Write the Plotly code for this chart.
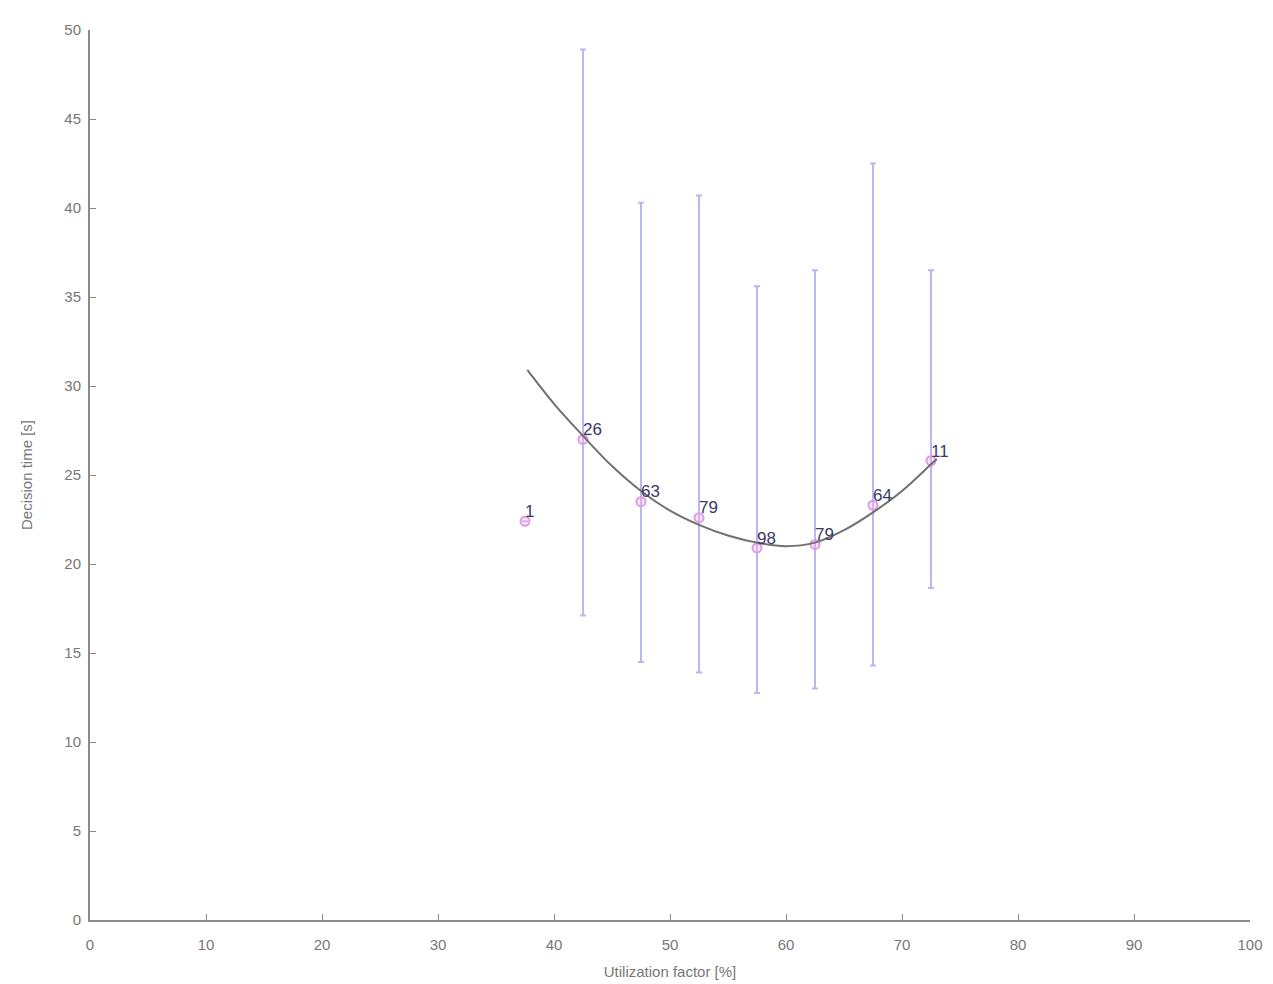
import plotly.graph_objects as go

# Data
util_x = [37.5, 42.5, 47.5, 52.5, 57.5, 62.5, 67.5, 72.5]
mean_time = [22.4, 27.0, 23.5, 22.6, 20.9, 21.1, 23.3, 25.8]
upper_time = [22.4, 48.9, 40.3, 40.7, 35.6, 36.5, 42.5, 36.5]
lower_time = [22.4, 17.1, 14.5, 13.9, 12.75, 13.0, 14.3, 18.65]
counts = ["1", "26", "63", "79", "98", "79", "64", "11"]

fit_x = [37.7, 40.0, 42.5, 45.0, 47.5, 50.0, 52.5, 55.0, 57.5, 60.0, 62.5, 65.0, 67.5, 70.0, 72.5, 73.0]
fit_y = [30.9, 29.0, 27.2, 25.5, 24.1, 23.0, 22.2, 21.6, 21.2, 21.0, 21.2, 21.9, 22.9, 24.1, 25.6, 25.9]

err_plus = [u - m for u, m in zip(upper_time, mean_time)]
err_minus = [m - l for m, l in zip(mean_time, lower_time)]

fig = go.Figure()

fig.add_trace(go.Scatter(
    x=util_x, y=mean_time, mode="markers",
    marker=dict(size=9, color="rgba(240,180,240,0.35)", line=dict(color="#e09ae0", width=2)),
    error_y=dict(type="data", symmetric=False, array=err_plus, arrayminus=err_minus,
                 color="rgba(170,170,240,0.85)", thickness=2, width=3),
    showlegend=False, hoverinfo="skip",
))

fig.add_trace(go.Scatter(
    x=fit_x, y=fit_y, mode="lines", line=dict(color="#707070", width=2, shape="spline"),
    showlegend=False, hoverinfo="skip",
))

fig.add_trace(go.Scatter(
    x=util_x, y=mean_time, mode="text", text=counts, textposition="top right",
    textfont=dict(size=17, color="#3a3a66", family="Liberation Sans"),
    showlegend=False, hoverinfo="skip",
))

axis_common = dict(
    showgrid=False, zeroline=False, showline=True, linecolor="#8a8a8a", linewidth=2,
    ticks="inside", ticklen=6, tickcolor="#8a8a8a", tickwidth=1,
    tickfont=dict(size=15, color="#777777", family="Liberation Sans"),
    mirror=False, automargin=False,
)

fig.update_layout(
    width=1265, height=976,
    margin=dict(l=82, r=23, t=22, b=64),
    paper_bgcolor="white", plot_bgcolor="white",
    xaxis=dict(range=[0, 100], tickvals=list(range(0, 101, 10)), ticklabelstandoff=10,
               title=dict(text="Utilization factor [%]", standoff=14,
                          font=dict(size=15, color="#777777", family="Liberation Sans")),
               **axis_common),
    yaxis=dict(range=[0, 50], tickvals=list(range(0, 51, 5)), ticklabelstandoff=4,
               title=dict(text="Decision time [s]", standoff=28,
                          font=dict(size=15, color="#777777", family="Liberation Sans")),
               **axis_common),
)

fig.write_html("out.html")
